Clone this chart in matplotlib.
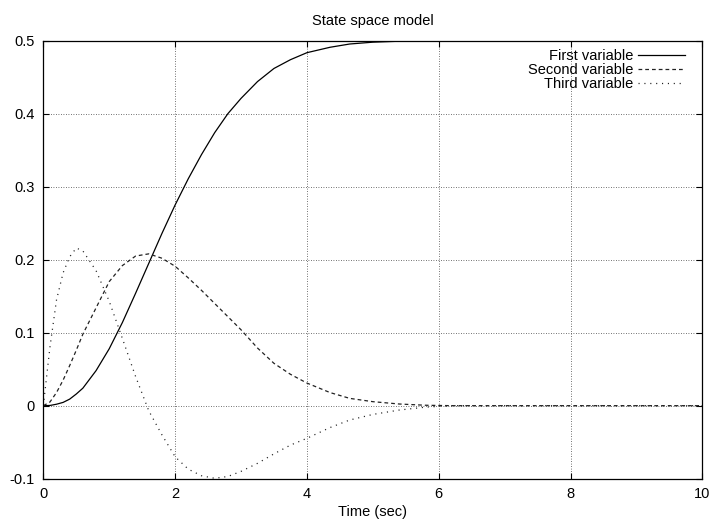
"""
State space model plot
======================
Recreates a gnuplot-style line chart of three state variables.
"""

import matplotlib
matplotlib.use("Agg")
import matplotlib.pyplot as plt

# Values
time = [0, 0.1, 0.2, 0.3, 0.4, 0.5, 0.6, 0.8, 1.0, 1.2, 1.4, 1.6, 1.8, 2.0,
        2.2, 2.4, 2.6, 2.8, 3.0, 3.25, 3.5, 3.75, 4.0, 4.35, 4.65, 5.0,
        5.4, 5.8, 6.2, 7, 8, 9, 10]

first_var = [0, 0.0003, 0.002, 0.0045, 0.009, 0.016, 0.024, 0.048, 0.078,
             0.114, 0.154, 0.195, 0.236, 0.275, 0.311, 0.344, 0.374, 0.400,
             0.421, 0.444, 0.462, 0.474, 0.4836, 0.491, 0.4955, 0.498,
             0.4993, 0.4998, 0.5, 0.5, 0.5, 0.5, 0.5]

second_var = [0, 0.005, 0.018, 0.035, 0.055, 0.076, 0.098, 0.134, 0.170,
              0.192, 0.205, 0.208, 0.202, 0.191, 0.175, 0.158, 0.140, 0.122,
              0.104, 0.079, 0.058, 0.043, 0.031, 0.018, 0.010, 0.0055,
              0.0023, 0.0006, 0, 0, 0, 0, 0]

third_var = [0, 0.08, 0.145, 0.182, 0.204, 0.216, 0.212, 0.185, 0.143,
             0.092, 0.04, -0.007, -0.04, -0.070, -0.087, -0.096, -0.0995,
             -0.097, -0.090, -0.079, -0.066, -0.054, -0.0447, -0.030,
             -0.0196, -0.012, -0.006, -0.002, 0, 0, 0, 0, 0]

x_ticks = [0, 2, 4, 6, 8, 10]
x_tick_labels = ["0", "2", "4", "6", "8", "10"]
y_ticks = [-0.1, 0, 0.1, 0.2, 0.3, 0.4, 0.5]
y_tick_labels = ["-0.1", "0", "0.1", "0.2", "0.3", "0.4", "0.5"]

plt.rcParams['font.family'] = ['Liberation Sans', 'DejaVu Sans']

fig = plt.figure(figsize=(7.14, 5.22), dpi=100)
ax = fig.add_axes([0.0607, 0.083, 0.9229, 0.839])

ax.plot(time, first_var, color='black', linewidth=0.9,
        label='First variable')
ax.plot(time, second_var, color='#222222', linewidth=0.9,
        linestyle=(0, (3, 2.4)), label='Second variable')
ax.plot(time, third_var, color='#222222', linewidth=0.9,
        linestyle=(0, (0.9, 3.8)), label='Third variable')

ax.set_xlim(0, 10)
ax.set_ylim(-0.1, 0.5)
ax.set_xticks(x_ticks)
ax.set_xticklabels(x_tick_labels)
ax.set_yticks(y_ticks)
ax.set_yticklabels(y_tick_labels)

ax.tick_params(direction='in', length=4, width=0.8, top=True, right=True,
               labelsize=10.5, pad=6)
for spine in ax.spines.values():
    spine.set_linewidth(0.9)

ax.grid(True, color='#444444', linestyle=(0, (1, 2)), linewidth=0.6)
ax.set_axisbelow(True)

ax.set_title("State space model", fontsize=10.5, pad=11)
ax.set_xlabel("Time (sec)", fontsize=10.5, labelpad=3)

ax.legend(loc='upper right', bbox_to_anchor=(0.974, 0.981), frameon=False,
          markerfirst=False, fontsize=10.5, handlelength=3.2,
          handletextpad=0.35, labelspacing=0.0, borderaxespad=0,
          borderpad=0)

fig.savefig("out.png", dpi=100)
